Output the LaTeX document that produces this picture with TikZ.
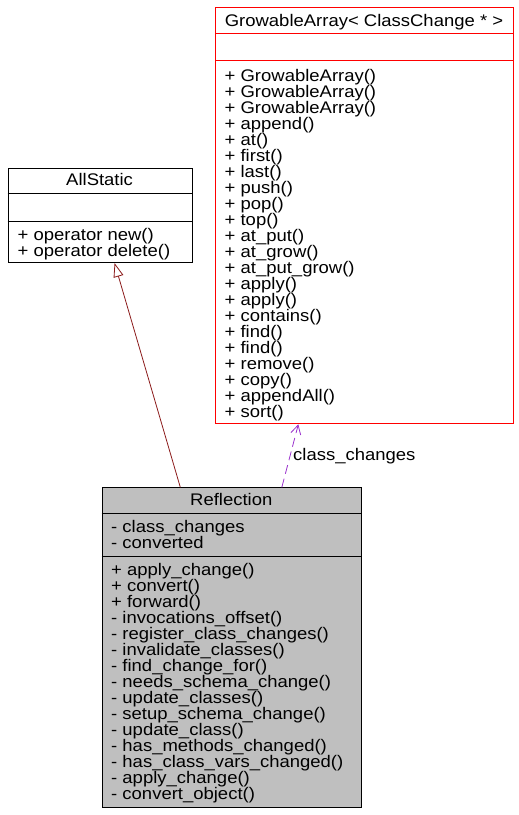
\documentclass[tikz,border=0pt]{standalone}
\usepackage{fontspec}
\setmainfont{Liberation Sans}[FakeStretch=1.1]
\usetikzlibrary{arrows.meta,calc}
\definecolor{inhred}{HTML}{8B1A1A}
\definecolor{collpurple}{HTML}{9A32CD}
\definecolor{reflgray}{HTML}{BFBFBF}
\begin{document}
\begin{tikzpicture}[x=1pt,y=-1pt,
  txt/.style={anchor=base west,inner sep=0pt,font=\fontsize{16.8}{16}\selectfont},
  ttl/.style={anchor=base,inner sep=0pt,font=\fontsize{16.8}{16}\selectfont},
  classbox/.style={draw,line width=1pt,anchor=north west,inner sep=0pt},
  sep/.style={line width=1pt},
  inh/.style={color=inhred,line width=0.8pt,-{Triangle[open,length=14pt,width=10pt]}},
  coll/.style={color=collpurple,line width=0.8pt,dash pattern=on 9pt off 5pt,-{Straight Barb[length=9pt,width=10pt]}}]
\useasboundingbox (0,0) rectangle (519,815);
% GrowableArray
\node[classbox,draw=red,minimum width=297.7pt,minimum height=416pt] (ga) at (215,7.3) {};
\draw[sep,red] ($(ga.north west)+(0,26)$) -- ($(ga.north east)+(0,26)$);
\draw[sep,red] ($(ga.north west)+(0,53.4)$) -- ($(ga.north east)+(0,53.4)$);
\node[ttl] (gatitle) at (364,26) {GrowableArray< ClassChange * >};
\foreach [count=\i from 0] \t in {+ GrowableArray(),+ GrowableArray(),+ GrowableArray(),+ append(),+ at(),+ first(),+ last(),+ push(),+ pop(),+ top(),+ at\_put(),+ at\_grow(),+ at\_put\_grow(),+ apply(),+ apply(),+ contains(),+ find(),+ find(),+ remove(),+ copy(),+ appendAll(),+ sort()}
  \node[txt] (gm\i) at (224.5,{81.5+16*\i}) {\t};
% AllStatic
\node[classbox,minimum width=184.2pt,minimum height=93.7pt] (as) at (7.5,168.3) {};
\draw[sep] ($(as.north west)+(0,25)$) -- ($(as.north east)+(0,25)$);
\draw[sep] ($(as.north west)+(0,52.7)$) -- ($(as.north east)+(0,52.7)$);
\node[ttl] (astitle) at (99.6,185) {AllStatic};
\node[txt] (as1) at (17.5,240) {+ operator new()};
\node[txt] (as2) at (17.5,256) {+ operator delete()};
% Reflection
\node[classbox,fill=reflgray,minimum width=259.3pt,minimum height=319.7pt] (refl) at (101.7,487.3) {};
\draw[sep] ($(refl.north west)+(0,26)$) -- ($(refl.north east)+(0,26)$);
\draw[sep] ($(refl.north west)+(0,69.4)$) -- ($(refl.north east)+(0,69.4)$);
\node[ttl] (refltitle) at (231.3,505) {Reflection};
\node[txt] (ra1) at (111,532) {- class\_changes};
\node[txt] (ra2) at (111,548) {- converted};
\foreach [count=\i from 0] \t in {+ apply\_change(),+ convert(),+ forward(),- invocations\_offset(),- register\_class\_changes(),- invalidate\_classes(),- find\_change\_for(),- needs\_schema\_change(),- update\_classes(),- setup\_schema\_change(),- update\_class(),- has\_methods\_changed(),- has\_class\_vars\_changed(),- apply\_change(),- convert\_object()}
  \node[txt] (rm\i) at (111,{575+16*\i}) {\t};
% edges
\draw[inh] ($(refl.north west)!0.302!(refl.north east)$) -- ($(as.south west)!0.578!(as.south east)$);
\draw[coll] ($(refl.north west)!0.692!(refl.north east)$) -- ($(ga.south west)!0.279!(ga.south east)$);
\node[txt] (lbl) at (293,460) {class\_changes};
\end{tikzpicture}
\end{document}
